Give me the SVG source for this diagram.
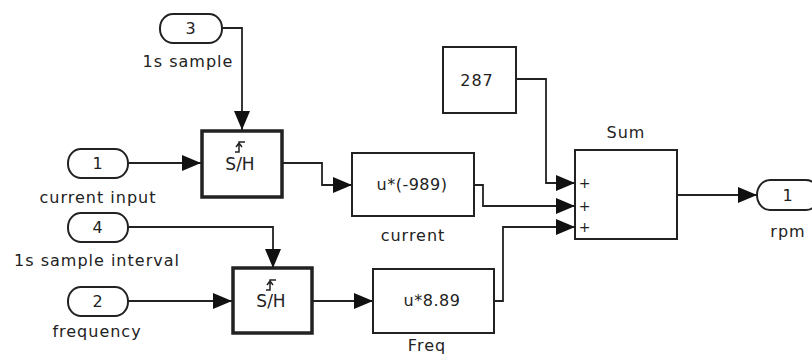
<svg xmlns="http://www.w3.org/2000/svg" width="812" height="357" viewBox="0 0 812 357">
<defs>
<style>
.t{font-family:"DejaVu Sans","Liberation Sans",sans-serif;font-size:16px;fill:#222;text-anchor:middle;letter-spacing:1px}
.pill{fill:#fff;stroke:#222;stroke-width:2}
.blk{fill:#fff;stroke:#222;stroke-width:2}
.thick{fill:#fff;stroke:#222;stroke-width:3.5}
.w{fill:none;stroke:#222;stroke-width:1.8}
.sym{fill:none;stroke:#222;stroke-width:1.5}
</style>
<marker id="ah" markerUnits="userSpaceOnUse" markerWidth="20" markerHeight="18" refX="19" refY="8" orient="auto">
<path d="M0,0 L19,8 L0,16 z" fill="#111"/>
</marker>
</defs>
<rect width="812" height="357" fill="#fff"/>
<g id="connectors">
<path class="w" d="M222,28 H242 V130" marker-end="url(#ah)"/>
<path class="w" d="M128,163 H201" marker-end="url(#ah)"/>
<path class="w" d="M128,227 H273 V268" marker-end="url(#ah)"/>
<path class="w" d="M128,301 H232" marker-end="url(#ah)"/>
<path class="w" d="M282,163 H322 V185 H352" marker-end="url(#ah)"/>
<path class="w" d="M312,301 H373" marker-end="url(#ah)"/>
<path class="w" d="M516,79 H546 V183 H575" marker-end="url(#ah)"/>
<path class="w" d="M474,185 H483 V206 H575" marker-end="url(#ah)"/>
<path class="w" d="M494,301 H503 V227 H575" marker-end="url(#ah)"/>
<path class="w" d="M677,195 H757" marker-end="url(#ah)"/>
</g>
<g id="in3">
<rect class="pill" x="160" y="14" width="62" height="29" rx="13" ry="14"/>
<text class="t" x="191" y="34">3</text>
<text class="t" x="188" y="67">1s sample</text>
</g>
<g id="in1">
<rect class="pill" x="68" y="149" width="60" height="29" rx="13" ry="14"/>
<text class="t" x="98" y="169">1</text>
<text class="t" x="98" y="203">current input</text>
</g>
<g id="in4">
<rect class="pill" x="68" y="213" width="60" height="29" rx="13" ry="14"/>
<text class="t" x="98" y="233">4</text>
<text class="t" x="97" y="266">1s sample interval</text>
</g>
<g id="in2">
<rect class="pill" x="68" y="287" width="60" height="29" rx="13" ry="14"/>
<text class="t" x="98" y="307">2</text>
<text class="t" x="97" y="337">frequency</text>
</g>
<g id="sh1">
<rect class="thick" x="202" y="131" width="80" height="66"/>
<path class="sym" d="M235,152 H239 V142 H245 M236,147 L239,143 L242,147"/>
<text class="t" x="240" y="170" style="font-size:17px;letter-spacing:0">S/H</text>
</g>
<g id="sh2">
<rect class="thick" x="233" y="268" width="79" height="65"/>
<path class="sym" d="M266,290 H270 V280 H276 M267,285 L270,281 L273,285"/>
<text class="t" x="271" y="307" style="font-size:17px;letter-spacing:0">S/H</text>
</g>
<g id="gain-current">
<rect class="blk" x="352" y="153" width="122" height="63"/>
<text class="t" x="412" y="190" style="letter-spacing:0.5px">u*(-989)</text>
<text class="t" x="413" y="241">current</text>
</g>
<g id="gain-freq">
<rect class="blk" x="373" y="269" width="121" height="64"/>
<text class="t" x="432" y="306" style="letter-spacing:0.5px">u*8.89</text>
<text class="t" x="427" y="351">Freq</text>
</g>
<g id="const287">
<rect class="blk" x="443" y="47" width="73" height="66"/>
<text class="t" x="477" y="86">287</text>
</g>
<g id="sum">
<rect class="blk" x="575" y="150" width="102" height="89"/>
<text class="t" x="626" y="138">Sum</text>
<text class="t" x="585" y="188" style="font-size:14px">+</text>
<text class="t" x="585" y="211" style="font-size:14px">+</text>
<text class="t" x="585" y="232" style="font-size:14px">+</text>
</g>
<g id="out1">
<rect class="pill" x="757" y="180" width="62" height="30" rx="13" ry="15"/>
<text class="t" x="788" y="201">1</text>
<text class="t" x="788" y="237">rpm</text>
</g>
</svg>
